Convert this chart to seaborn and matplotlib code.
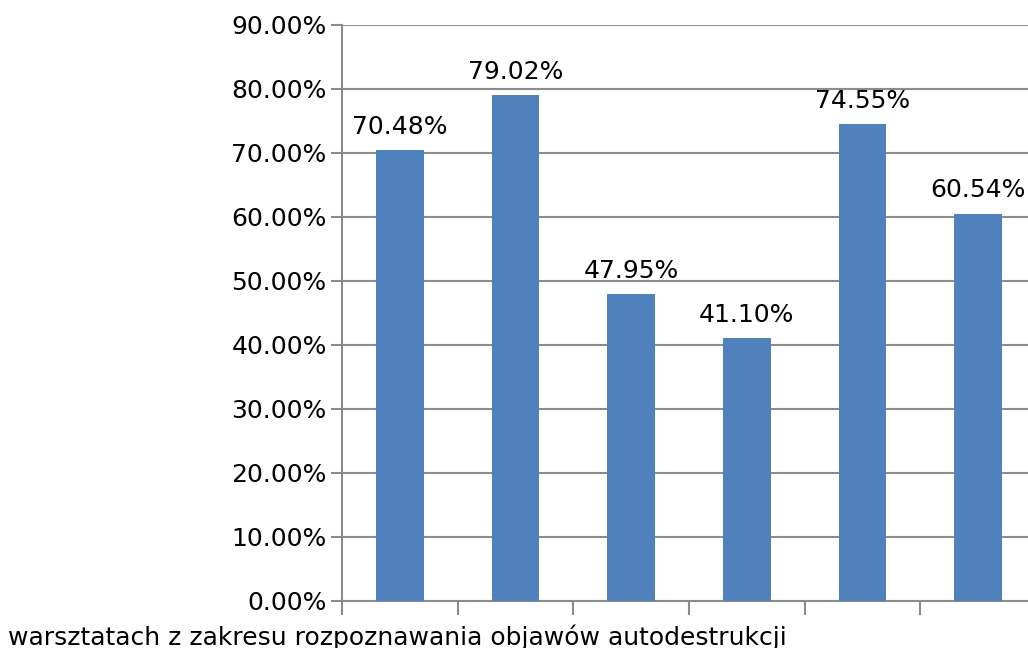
import matplotlib
matplotlib.use("Agg")
import matplotlib.pyplot as plt
import seaborn as sns
import pandas as pd

# dane z wykresu
kategorie = ["A", "B", "C", "D", "E", "F"]
wartosci = [70.48, 79.02, 47.95, 41.10, 74.55, 60.54]
etykiety_y = [f"{v:.2f}%" for v in range(0, 91, 10)]
podpis = "warsztatach z zakresu rozpoznawania objawów autodestrukcji"

sns.set_style("white")
plt.rcParams["font.family"] = ["DejaVu Sans"]
plt.rcParams["text.color"] = "black"
plt.rcParams["xtick.color"] = "#8c8c8c"
plt.rcParams["ytick.color"] = "#8c8c8c"

df = pd.DataFrame({"kat": kategorie, "val": wartosci})

fig = plt.figure(figsize=(10.28, 6.48), dpi=100)
ax = fig.add_axes([342 / 1028, 1 - 601 / 648, 694 / 1028, 576 / 648])

sns.barplot(data=df, x="kat", y="val", color="#4F81BD", width=0.41,
            saturation=1, linewidth=0, ax=ax, zorder=3)

ax.set_ylim(0, 90)
ax.set_xlim(-0.5, 5.5)
ax.set_yticks(range(0, 91, 10))
ax.set_yticklabels(etykiety_y, fontsize=18, color="black")
ax.yaxis.grid(True, color="#8c8c8c", linewidth=1.5, zorder=0)
ax.set_axisbelow(True)

# kreski na granicach kategorii
ax.set_xticks([i - 0.5 for i in range(7)])
ax.set_xticklabels([])
ax.tick_params(axis="x", bottom=True, length=10, width=1.5, color="#8c8c8c",
               direction="out")
ax.tick_params(axis="y", left=True, length=8, width=1.5, color="#8c8c8c",
               direction="out", pad=3)
ax.set_xlabel("")
ax.set_ylabel("")

for s in ["top", "right"]:
    ax.spines[s].set_visible(False)
for s in ["left", "bottom"]:
    ax.spines[s].set_color("#8c8c8c")
    ax.spines[s].set_linewidth(1.5)

ax.bar_label(ax.containers[0], labels=[f"{v:.2f}%" for v in wartosci],
             fontsize=18, padding=8, color="black")

fig.text(8 / 1028, 1 - 645 / 648, podpis, fontsize=18, ha="left",
         va="baseline", color="black")

fig.savefig("out.png", dpi=100)
